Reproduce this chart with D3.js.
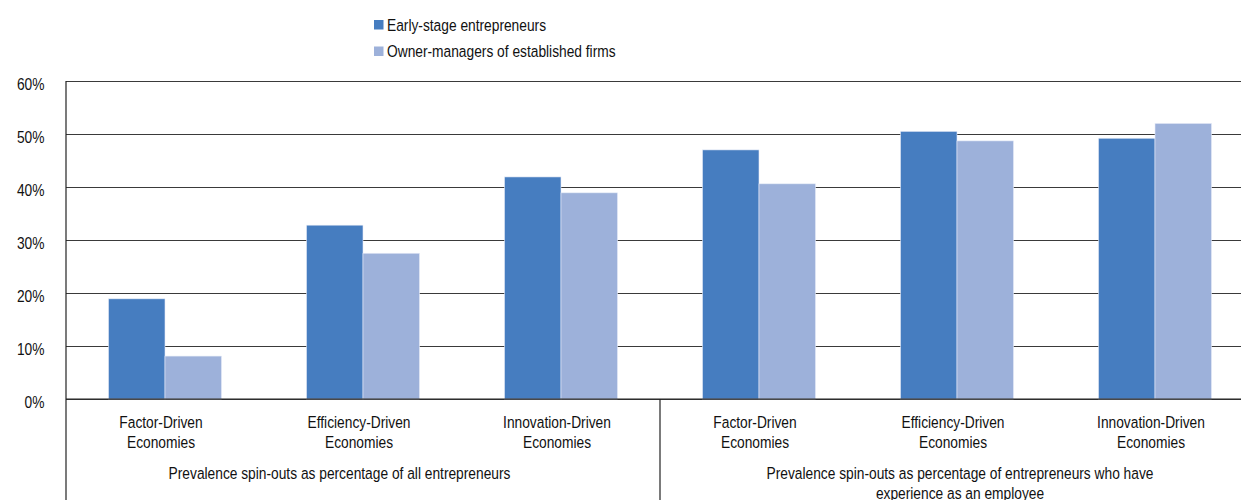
<!DOCTYPE html>
<html>
<head>
<meta charset="utf-8">
<script src="https://cdn.jsdelivr.net/npm/d3@7"></script>
<style>
  html, body { margin: 0; padding: 0; background: #fff; }
  svg { display: block; font-family: "Liberation Sans", Arial, sans-serif; }
</style>
</head>
<body>
<svg id="chart" width="1241" height="500"></svg>
<script>
// Economy types, repeated under each of the two measures
const categories = [
  "Factor-Driven Economies", "Efficiency-Driven Economies", "Innovation-Driven Economies",
  "Factor-Driven Economies", "Efficiency-Driven Economies", "Innovation-Driven Economies"
];
const categoryLines = [
  ["Factor-Driven", "Economies"], ["Efficiency-Driven", "Economies"], ["Innovation-Driven", "Economies"],
  ["Factor-Driven", "Economies"], ["Efficiency-Driven", "Economies"], ["Innovation-Driven", "Economies"]
];
const groupLabels = [
  ["Prevalence spin-outs as percentage of all entrepreneurs"],
  ["Prevalence spin-outs as percentage of entrepreneurs who have", "experience as an employee"]
];
const seriesNames = ["Early-stage entrepreneurs", "Owner-managers of established firms"];
const earlyStage = [18.9, 32.8, 41.9, 47.0, 50.5, 49.2];
const ownerManagers = [8.1, 27.5, 38.9, 40.6, 48.7, 52.0];
const yTicks = [0, 10, 20, 30, 40, 50, 60];
const colors = ["#467dc0", "#9db1da"];

const svg = d3.select("#chart");
const plotLeft = 66, plotRight = 1254, plotTop = 81, plotBottom = 399;
const squeeze = 0.81;    // condensed look for all labels
const fontSize = 17;
const groupLabelShift = [-23.5, 3];

const x = d3.scaleBand().domain(d3.range(categories.length)).range([plotLeft, plotRight]).paddingInner(0).paddingOuter(0);
const xInner = d3.scaleBand().domain([0, 1]).range([0, x.bandwidth()]).paddingOuter(0.752).paddingInner(0);
const y = d3.scaleLinear().domain([0, 60]).range([plotBottom, plotTop]);

// Condensed text placed at (px, py)
function label(parent, px, py, str, anchor) {
  return parent.append("text")
    .attr("transform", `translate(${px},${py}) scale(${squeeze},1)`)
    .attr("text-anchor", anchor || "start")
    .attr("font-size", fontSize)
    .attr("fill", "#111")
    .text(str);
}

// Gridlines and y labels
const yAxis = d3.axisLeft(y).tickValues(yTicks).tickSize(-(plotRight - plotLeft)).tickFormat(d => d + "%");
const gy = svg.append("g").attr("transform", `translate(${plotLeft},0)`).call(yAxis);
gy.select(".domain").remove();
gy.selectAll(".tick line").attr("stroke", "#3a3a3a").attr("stroke-width", 1);
gy.selectAll(".tick text")
  .attr("x", null).attr("dy", "0.5em")
  .attr("transform", `translate(-21.5,0) scale(${squeeze},1)`)
  .attr("fill", "#111")
  .style("font-size", fontSize + "px")
  .style("font-family", "\"Liberation Sans\", Arial, sans-serif");

// Bars
const series = [earlyStage, ownerManagers];
series.forEach((vals, s) => {
  svg.append("g").selectAll("rect").data(vals).join("rect")
    .attr("x", (d, i) => x(i) + xInner(s))
    .attr("width", xInner.bandwidth())
    .attr("y", d => y(d))
    .attr("height", d => y(0) - y(d))
    .attr("fill", colors[s])
    .attr("stroke", "#e6ecf7")
    .attr("stroke-width", 0.6);
});

// Plot frame and axis baseline
svg.append("line").attr("x1", plotLeft).attr("x2", plotRight).attr("y1", y(0)).attr("y2", y(0))
  .attr("stroke", "#222").attr("stroke-width", 1.2);
svg.append("line").attr("x1", plotLeft).attr("x2", plotLeft).attr("y1", plotTop).attr("y2", 500)
  .attr("stroke", "#222").attr("stroke-width", 1.2);

// Separators of the two outer groups
[3, 6].forEach(i => {
  const gx = plotLeft + i * x.step();
  svg.append("line").attr("x1", gx).attr("x2", gx).attr("y1", y(0)).attr("y2", 500)
    .attr("stroke", "#222").attr("stroke-width", 1.2);
});

// Category labels
const catG = svg.append("g");
categoryLines.forEach((lines, i) => {
  const cx = x(i) + x.bandwidth() / 2 - 4;
  lines.forEach((ln, k) => label(catG, cx, 428 + k * 19.5, ln, "middle"));
});

// Outer group labels
const grpG = svg.append("g");
groupLabels.forEach((lines, g) => {
  const cx = plotLeft + (g * 3 + 1.5) * x.step() + groupLabelShift[g];
  lines.forEach((ln, k) => label(grpG, cx, 478.5 + k * 20.5, ln, "middle"));
});

// Legend
const legend = svg.append("g").attr("transform", "translate(374,20)");
seriesNames.forEach((name, i) => {
  const row = legend.append("g").attr("transform", `translate(0,${i * 26.5})`);
  row.append("rect").attr("width", 9.5).attr("height", 9.5).attr("fill", colors[i]);
  label(row, 13, 10.5, name, "start");
});
</script>
</body>
</html>
